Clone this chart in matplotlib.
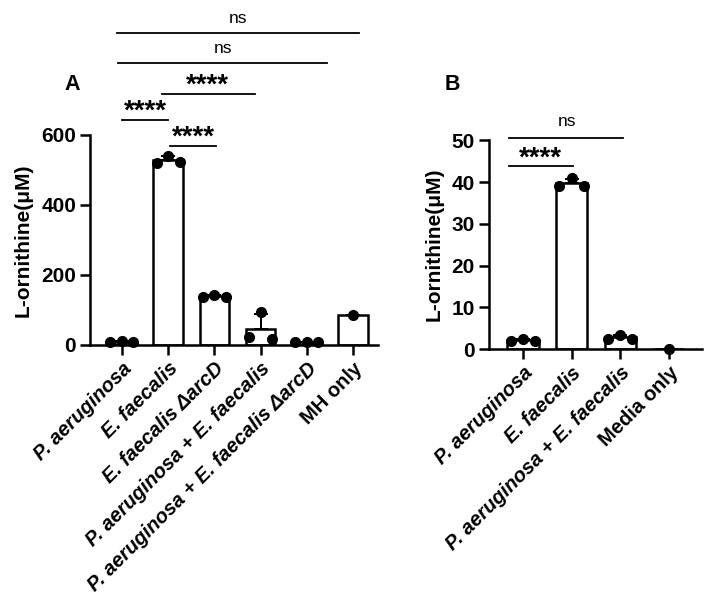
import numpy as np
import matplotlib
matplotlib.use('Agg')
import matplotlib.pyplot as plt

plt.rcParams['font.family'] = ['Liberation Sans', 'DejaVu Sans']

# Panel A data
cats_a = ['P. aeruginosa', 'E. faecalis', 'E. faecalis \u0394arcD',
          'P. aeruginosa + E. faecalis', 'P. aeruginosa + E. faecalis \u0394arcD', 'MH only']
italic_a = [True, True, True, True, True, False]
pts_a = [[8, 12, 9], [521, 540, 523], [138, 142, 137], [22, 95, 18], [7, 9, 8], [85]]

# Panel B data
cats_b = ['P. aeruginosa', 'E. faecalis', 'P. aeruginosa + E. faecalis', 'Media only']
italic_b = [True, True, True, False]
pts_b = [[2.0, 2.4, 2.0], [39.0, 41.0, 39.0], [2.5, 3.5, 2.5], [0.0]]

# significance brackets: (x0, x1, y, label, text x, text y)
sig_a = [(0.0, 1.0, 643, '****', 0.5, 646),
         (1.04, 2.03, 569, '****', 1.54, 572),
         (0.87, 2.88, 717, '****', 1.86, 720),
         (-0.09, 4.44, 806, 'ns', 2.19, 834),
         (-0.11, 5.13, 891, 'ns', 2.51, 918)]
sig_b = [(-0.29, 1.03, 43.8, '****', 0.35, 44.0),
         (-0.29, 2.05, 50.5, 'ns', 0.9, 53.3)]

LW = 1.8

fig = plt.figure(figsize=(7.2, 6.02), dpi=100)
ax_a = fig.add_axes([0.125, 0.427, 0.4, 0.349])
ax_b = fig.add_axes([0.679, 0.420, 0.296, 0.347])


def draw(ax, cats, italics, pts, sig, ylim, yticks, xlim):
    x = np.arange(len(cats))
    means = [np.mean(p) for p in pts]
    sds = [np.std(p, ddof=1) if len(p) > 1 else 0 for p in pts]
    ax.bar(x, means, width=0.64, color='white', edgecolor='black', linewidth=LW, zorder=2)
    ax.errorbar(x, means, yerr=[np.zeros(len(x)), sds], fmt='none', ecolor='black',
                elinewidth=LW * 0.8, capsize=5, capthick=LW * 0.8, zorder=3)
    for i, p in enumerate(pts):
        offs = [-0.25, 0, 0.25] if len(p) == 3 else [0]
        ax.plot(i + np.array(offs), p, 'o', color='black', markersize=7, zorder=4, clip_on=False)
    for x0, x1, y, lab, tx, ty in sig:
        ax.plot([x0, x1], [y, y], color='black', lw=1.3, clip_on=False)
        if lab == 'ns':
            ax.text(tx, ty, lab, ha='center', va='baseline', fontsize=12.5)
        else:
            ax.text(tx, ty, lab, ha='center', va='baseline', fontsize=20, fontweight='bold')
    ax.set_xlim(*xlim)
    ax.set_ylim(*ylim)
    ax.set_yticks(yticks)
    ax.set_xticks(x)
    ax.set_xticklabels(cats, rotation=45, ha='right', rotation_mode='anchor')
    for lbl, it in zip(ax.get_xticklabels(), italics):
        lbl.set_fontsize(14.5)
        lbl.set_fontweight('bold')
        lbl.set_fontstyle('italic' if it else 'normal')
    for lbl in ax.get_yticklabels():
        lbl.set_fontsize(15)
        lbl.set_fontweight('bold')
    ax.set_ylabel('L-ornithine(\u03bcM)', fontsize=15, fontweight='bold', labelpad=6)
    for s in ['top', 'right']:
        ax.spines[s].set_visible(False)
    for s in ['left', 'bottom']:
        ax.spines[s].set_linewidth(LW)
    ax.tick_params(width=LW, length=7, pad=3)


draw(ax_a, cats_a, italic_a, pts_a, sig_a, (0, 600), [0, 200, 400, 600], (-0.69, 5.54))
draw(ax_b, cats_b, italic_b, pts_b, sig_b, (0, 50), [0, 10, 20, 30, 40, 50], (-0.70, 3.68))

fig.text(72 / 720, 1 - 85 / 602, 'A', fontsize=15.5, fontweight='bold', ha='center', va='center')
fig.text(452 / 720, 1 - 85 / 602, 'B', fontsize=15.5, fontweight='bold', ha='center', va='center')

plt.savefig('out.png', dpi=100)
